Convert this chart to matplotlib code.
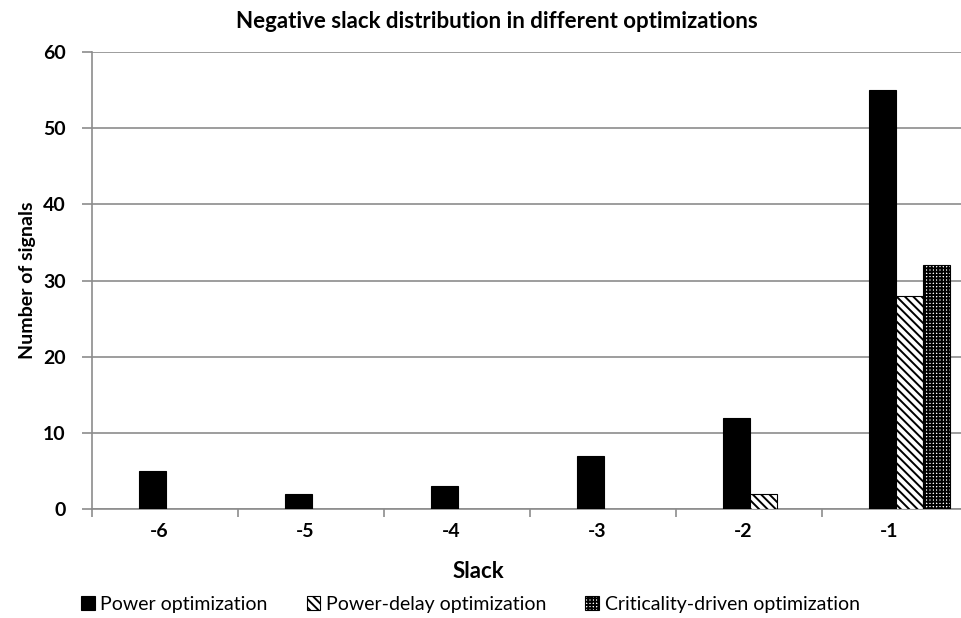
import numpy as np
import matplotlib.pyplot as plt
from matplotlib.patches import Patch

plt.rcParams['font.family'] = ['Lato', 'DejaVu Sans']
plt.rcParams['hatch.linewidth'] = 1.4

# slack bins and signal counts per optimization
slack = ['-6', '-5', '-4', '-3', '-2', '-1']
power = [5, 2, 3, 7, 12, 55]
power_delay = [0, 0, 0, 0, 2, 28]
criticality = [0, 0, 0, 0, 0, 32]

series = [
    ('Power optimization', power, dict(color='black', edgecolor='black')),
    ('Power-delay optimization', power_delay, dict(color='white', edgecolor='black', hatch='\\\\\\\\')),
    ('Criticality-driven optimization', criticality, dict(color='white', edgecolor='black', hatch='+++++')),
]

fig = plt.figure(figsize=(9.62, 6.18), dpi=100)
ax = fig.add_axes([92 / 962, 109 / 618, 876 / 962, 457 / 618])

x = np.arange(len(slack))
w = 0.185
start = -0.18
for k, (name, vals, style) in enumerate(series):
    vals = np.array(vals)
    keep = vals > 0
    ax.bar(x[keep] + start + k * w, vals[keep], width=w, align='edge',
           linewidth=0.8, zorder=3, **style)

ax.set_xlim(-0.5, len(slack) - 0.5)
ax.set_ylim(0, 60)
ax.set_yticks(range(0, 61, 10))
ax.yaxis.grid(True, color='#8c8c8c', linewidth=1.2, zorder=0)
ax.set_axisbelow(True)

# category labels centred, tick marks on category boundaries
ax.set_xticks(x - 0.04)
ax.set_xticklabels(slack)
ax.set_xticks(np.arange(-0.5, len(slack) + 0.5, 1), minor=True)
ax.tick_params(axis='x', which='major', length=0, pad=10, labelsize=14)
ax.tick_params(axis='x', which='minor', length=6, color='#8c8c8c', width=1.2)
ax.tick_params(axis='y', length=7, color='#8c8c8c', width=1.2, labelsize=14, pad=12)
for lab in ax.get_xticklabels() + ax.get_yticklabels():
    lab.set_fontweight('bold')

for s in ['top', 'right']:
    ax.spines[s].set_visible(False)
for s in ['left', 'bottom']:
    ax.spines[s].set_color('#8c8c8c')
    ax.spines[s].set_linewidth(1.2)

fig.text(478 / 962, 1 - 571 / 618, 'Slack', ha='center', va='center',
         fontsize=16, fontweight='bold')
fig.text(28 / 962, 1 - 280 / 618, 'Number of signals', ha='center', va='center',
         rotation=90, fontsize=14, fontweight='bold')
fig.text(497 / 962, 1 - 22 / 618, 'Negative slack distribution in different optimizations',
         ha='center', va='center', fontsize=16, fontweight='bold')

handles = [Patch(facecolor=st['color'], edgecolor='black', hatch=st.get('hatch'), linewidth=0.8)
           for _, _, st in series]
fig.legend(handles, [s[0] for s in series], loc='center left', bbox_to_anchor=(0.066, 0.022),
           ncol=3, frameon=False, fontsize=14, handlelength=0.7, handleheight=0.7,
           handletextpad=0.3, columnspacing=2.0)

fig.savefig('out.png', dpi=100)
